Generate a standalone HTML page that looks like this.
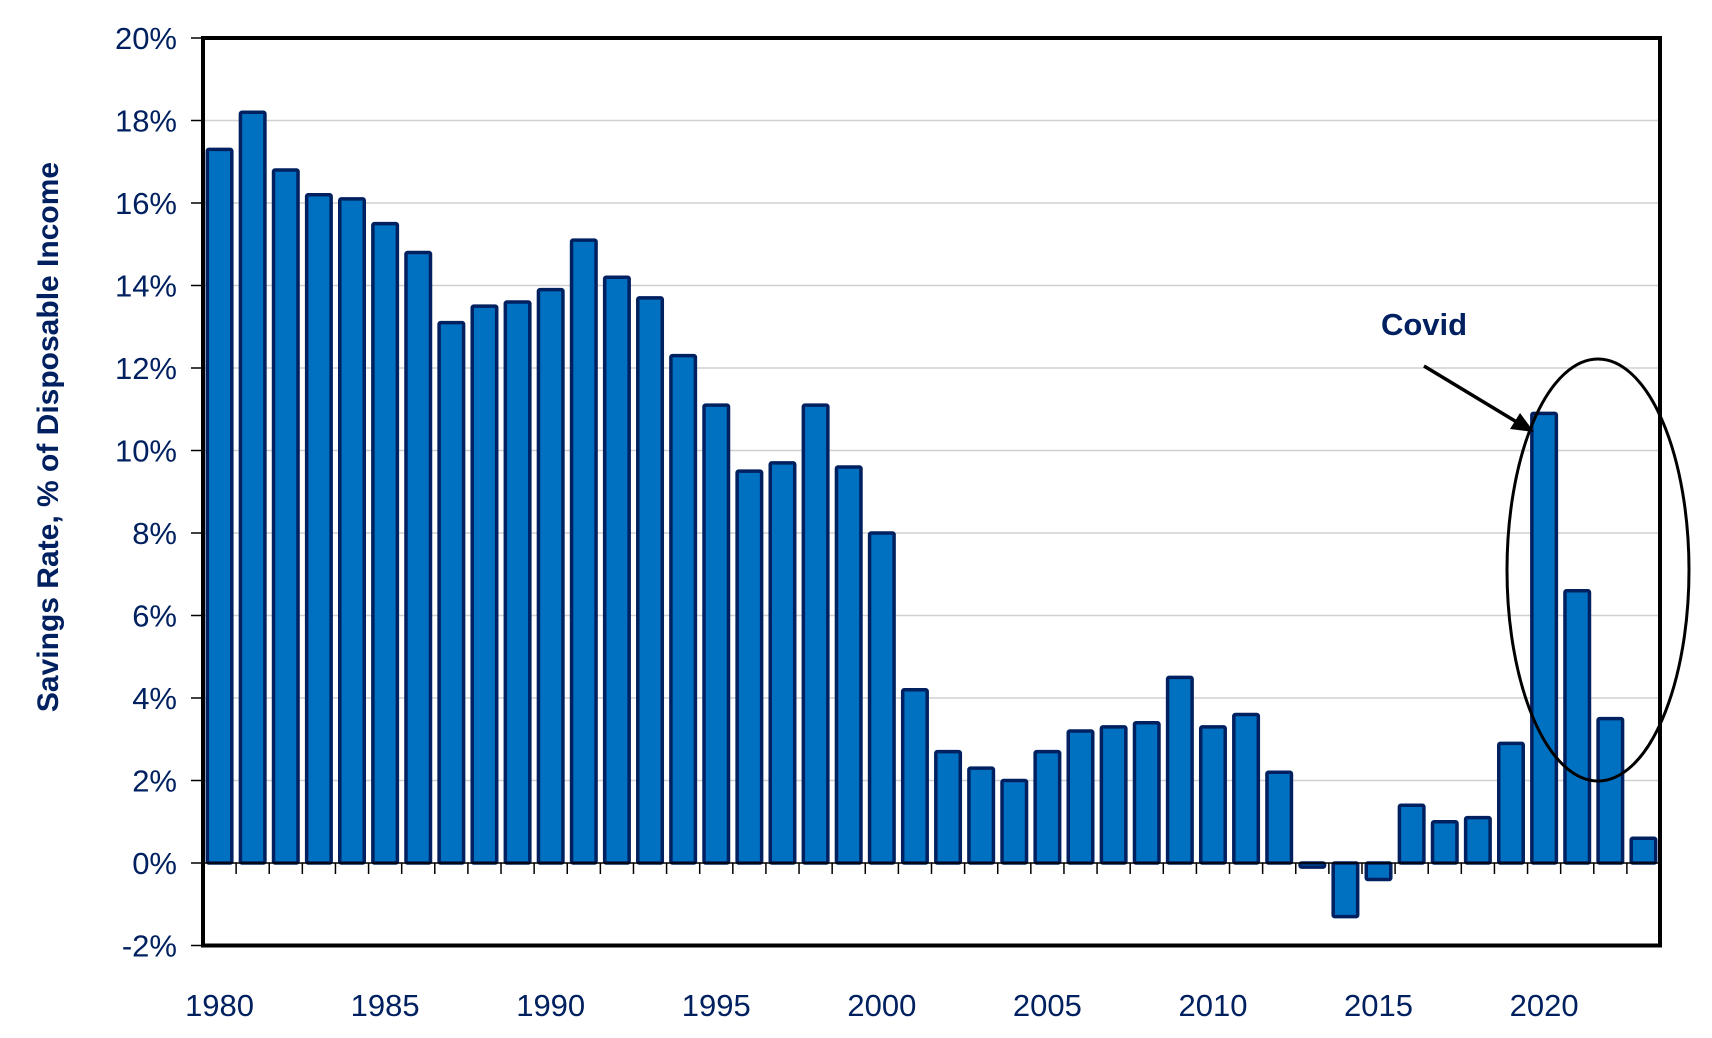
<!DOCTYPE html>
<html><head><meta charset="utf-8"><style>
body{margin:0;background:#fff;}
svg{display:block;font-family:"Liberation Sans",Arial,sans-serif;}
</style></head><body>
<svg id="chart" width="1712" height="1038">
<g id="grid"></g><g id="bars"></g><g id="axes"></g>
<text transform="translate(58,437) rotate(-90)" text-anchor="middle" font-size="30" font-weight="bold" fill="#002060">Savings Rate, % of Disposable Income</text>
<ellipse cx="1598" cy="570" rx="91" ry="211" fill="none" stroke="#000" stroke-width="3"/>
<text x="1424" y="335" text-anchor="middle" font-size="31" font-weight="bold" fill="#002060">Covid</text>
<line x1="1424" y1="366" x2="1520" y2="424" stroke="#000" stroke-width="3.5"/>
<polygon points="1534,432 1510,429 1520,413" fill="#000"/>
</svg>
<script>
const years=[1980,1981,1982,1983,1984,1985,1986,1987,1988,1989,1990,1991,1992,1993,1994,1995,1996,1997,1998,1999,2000,2001,2002,2003,2004,2005,2006,2007,2008,2009,2010,2011,2012,2013,2014,2015,2016,2017,2018,2019,2020,2021,2022,2023];
const rates=[17.3,18.2,16.8,16.2,16.1,15.5,14.8,13.1,13.5,13.6,13.9,15.1,14.2,13.7,12.3,11.1,9.5,9.7,11.1,9.6,8.0,4.2,2.7,2.3,2.0,2.7,3.2,3.3,3.4,4.5,3.3,3.6,2.2,-0.1,-1.3,-0.4,1.4,1.0,1.1,2.9,10.9,6.6,3.5,0.6];
const yTicks=[-2,0,2,4,6,8,10,12,14,16,18,20];
const xLabels=[1980,1985,1990,1995,2000,2005,2010,2015,2020];
const NS='http://www.w3.org/2000/svg';
const L=203,R=1660,T=38,B=945.5;
const yMin=-2,yMax=20;
const y=v=>B-(v-yMin)/(yMax-yMin)*(B-T);
const step=(R-L)/years.length;
const x=i=>L+i*step;
function mk(t,a,p){const e=document.createElementNS(NS,t);for(const k in a)e.setAttribute(k,a[k]);p.appendChild(e);return e;}
const grid=document.getElementById('grid'),bars=document.getElementById('bars'),axes=document.getElementById('axes');
yTicks.forEach(v=>{
 if(v!==yMin&&v!==yMax&&v!==0){const g=mk('line',{x1:L,x2:R,y1:y(v),y2:y(v),stroke:'#d0d0d0','stroke-width':1.5},grid);
 
 }
 const tk=mk('line',{x1:L-12,x2:L,y1:y(v),y2:y(v),stroke:'#000','stroke-width':1.5},axes);
 
 
 const t=mk('text',{x:L-26,y:y(v)+11,'text-anchor':'end','font-size':31,fill:'#002060'},axes);
 t.textContent=v+'%';
 
 
});
rates.forEach((v,i)=>{
 const w=step*0.74,cx=x(i)+step/2;
 const top=Math.min(y(v),y(0)),h=Math.max(Math.abs(y(v)-y(0)),1);
 const r=mk('rect',{x:cx-w/2,y:top,width:w,height:h,fill:'#0070C0',stroke:'#002060','stroke-width':3.5,rx:1.5},bars);
 
 
});
const z=mk('line',{x1:L,x2:R,y1:y(0),y2:y(0),stroke:'#000','stroke-width':1.5},axes);


for(let i=1;i<years.length;i++){
 const tk=mk('line',{x1:x(i),x2:x(i),y1:y(0),y2:y(0)+11,stroke:'#000','stroke-width':1.5},axes);
 
 
}
xLabels.forEach(yr=>{
 const i=years.indexOf(yr);
 const t=mk('text',{x:x(i)+step/2,y:1016,'text-anchor':'middle','font-size':31,fill:'#002060'},axes);
 t.textContent=yr;
 
 
});
const f=mk('rect',{x:L,y:T,width:R-L,height:B-T,fill:'none',stroke:'#000','stroke-width':4},axes);


</script>
</body></html>
